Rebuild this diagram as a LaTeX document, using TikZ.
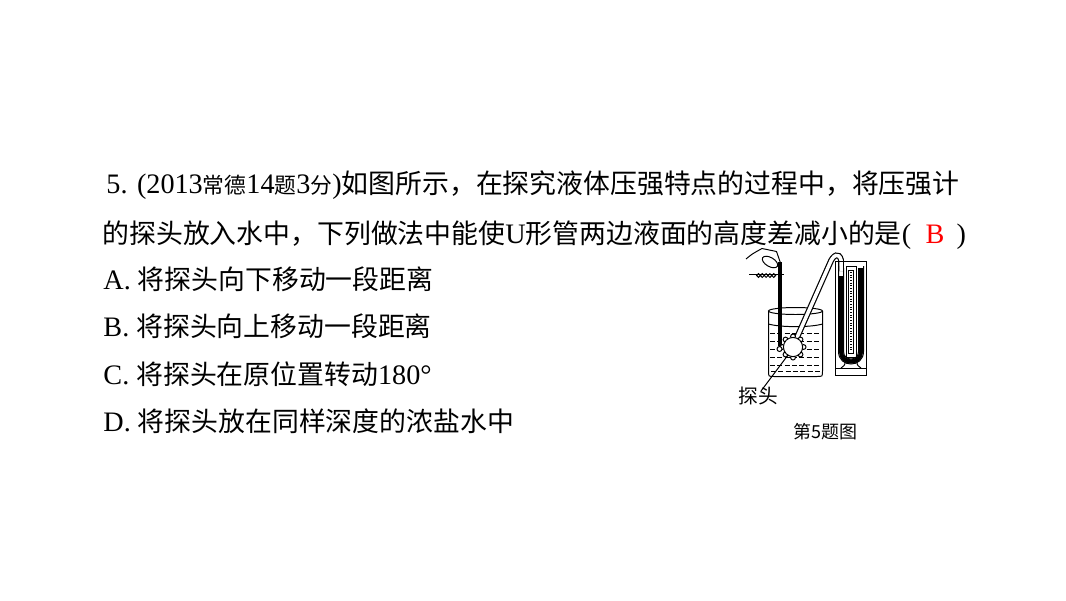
\documentclass[tikz,border=0pt]{standalone}
\usepackage{fontspec}
\setmainfont{Liberation Serif}[Scale=1.05]
\newfontfamily\cjk{Noto Sans CJK SC}
\newcommand\zh[1]{{\cjk #1}}
\newcommand\zs[1]{{\cjk\fontsize{15.5pt}{16pt}\selectfont #1}}
\usetikzlibrary{calc}
\def\probebump(#1:#2){\draw[fill=white] ($(probe)+(#1:10.6)$) circle (#2);}
\tikzset{
	txt/.style={anchor=base west, inner sep=0pt, font=\fontsize{19.1pt}{23pt}\selectfont},
	lbl/.style={inner sep=0pt, font=\cjk\fontsize{14pt}{15pt}\selectfont}
}

\begin{document}
\begin{tikzpicture}[x=0.025cm, y=-0.025cm, line width=0.7pt]
			%%%%% START %%%%%
			\fill[white] (0, 0) rectangle (1066, 600);
			\useasboundingbox (0, 0) rectangle (1066, 600);
			
			\node[txt] (q1) at (106, 193) {5. (2013\zs{常德}14\zs{题}3\zs{分})\zh{如图所示，在探究液体压强特点的过程中，将压强计}};
			\node[txt] (q2) at (102, 243) {\zh{的探头放入水中，下列做法中能使}U\zh{形管两边液面的高度差减小的是}(};
			\node[txt, text=red] (ans) at (925, 243) {B};
			\node[txt] (q2end) at (956, 243) {)};
			
			\node[txt] (optA) at (103, 289) {A. \zh{将探头向下移动一段距离}};
			\node[txt] (optB) at (103, 336) {B. \zh{将探头向上移动一段距离}};
			\node[txt] (optC) at (103, 384) {C. \zh{将探头在原位置转动}180°};
			\node[txt] (optD) at (103, 431) {D. \zh{将探头放在同样深度的浓盐水中}};
			
			% hand and thread
			\draw (746, 259) .. controls (752, 254) .. (762, 248.5) -- (776.5, 251.5) -- (780.5, 263);
			\draw[rotate around={-30:(770, 262)}] (770, 262) ellipse (8.5 and 4.5);
			\draw (749, 274.5) -- (784, 274.5);
			\draw (758.5, 275.5) circle (1.9) (762.3, 275.5) circle (1.9) (766.1, 275.5) circle (1.9)
				(769.9, 275.5) circle (1.9) (773.7, 275.5) circle (1.9);
			
			% beaker
			\draw (795.5, 311) ellipse (27 and 3.5);
			\draw (768.5, 311) -- (768.5, 371) .. controls (768.5, 376.5) .. (774, 376.5) -- (817, 376.5)
				.. controls (822.5, 376.5) .. (822.5, 371) -- (822.5, 311);
			\draw (768.5, 324) .. controls (780, 327.5) and (811, 327.5) .. (822.5, 324);
			\draw[dash pattern=on 3.6pt off 1.6pt] (770, 333) -- (821, 333);
			\draw[dash pattern=on 3.6pt off 1.6pt] (770, 341) -- (821, 341);
			\draw[dash pattern=on 3.6pt off 1.6pt] (770, 349) -- (821, 349);
			\draw[dash pattern=on 3.6pt off 1.6pt] (770, 357) -- (821, 357);
			\draw[dash pattern=on 3.6pt off 1.6pt] (770, 365) -- (821, 365);
			\draw[dash pattern=on 3.6pt off 1.6pt] (771, 371) -- (820, 371);
			
			% rubber tube
			\draw[line width=4.2pt] (795, 342) -- (830, 263) .. controls (833, 255) and (839, 252) .. (841, 260) -- (841, 271);
			\draw[line width=2.5pt, white] (795, 342) -- (830, 263) .. controls (833, 255) and (839, 252) .. (841, 260) -- (841, 271);
			
			% rod and probe
			\draw[line width=2.6pt] (780, 262) -- (780, 346);
			\coordinate (probe) at (793, 347);
			\probebump(0:2.4) \probebump(45:2.4) \probebump(90:2.4) \probebump(135:2.4)
			\probebump(180:2.4) \probebump(225:2.4) \probebump(270:2.4) \probebump(315:2.4)
			\draw[fill=white] (probe) circle (9.6);
			\draw[fill=white] (779.5, 349) circle (2.5);
			
			\node[lbl] (tantou) at (758, 396) {探头};
			\coordinate (tantoutip) at (761, 391);
			\draw (tantoutip) -- ($(probe)+(-5, 8)$);
			
			% U-tube manometer
			\draw (835.5, 368) rectangle (866.5, 375);
			\draw (835.5, 368) -- (835.5, 261.5) -- (866.5, 261.5) -- (866.5, 368);
			\draw (846, 266) rectangle (856, 357);
			\draw (848.5, 270) rectangle (853.5, 353);
			\draw[line width=2pt, dash pattern=on 0.5pt off 1.4pt] (851, 272) -- (851, 351);
			\draw[line width=3pt] (841, 276) -- (841, 351.5) .. controls (841, 364.8) and (861, 364.8) .. (861, 351.5) -- (861, 268);
			\draw (838.5, 266) -- (838.5, 351.5) .. controls (838.5, 368.2) and (863.5, 368.2) .. (863.5, 351.5) -- (863.5, 266);
			\draw (843.5, 268) -- (843.5, 351.5) .. controls (843.5, 361.5) and (858.5, 361.5) .. (858.5, 351.5) -- (858.5, 268);
			\draw (845, 361) .. controls (845, 365) .. (841, 368);
			\draw (857, 361) .. controls (857, 365) .. (861, 368);
			
			\node[inner sep=0pt, font=\cjk\fontsize{12.8pt}{14pt}\selectfont] (figcap) at (825, 432) {第5题图};
			%%%%% END %%%%%
\end{tikzpicture}
\end{document}
